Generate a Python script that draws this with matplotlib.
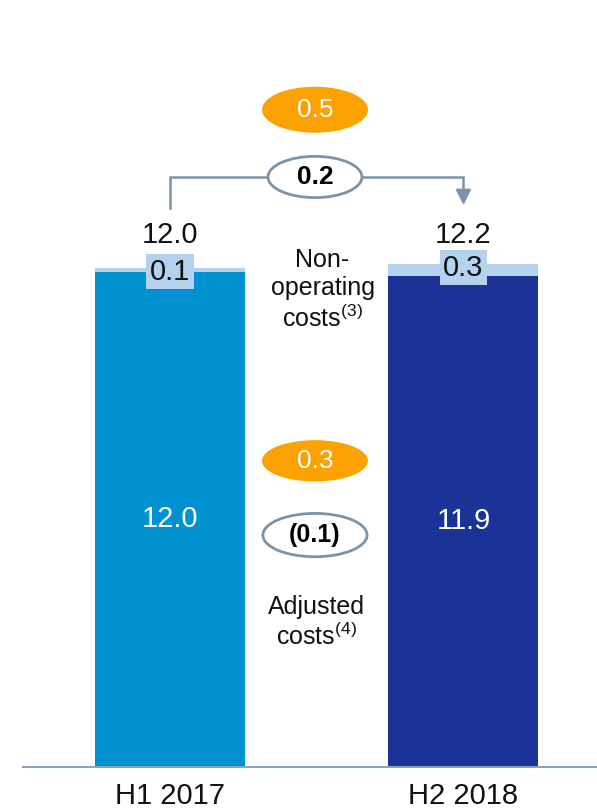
import matplotlib
matplotlib.use("Agg")
import matplotlib.pyplot as plt
from matplotlib.patches import Ellipse

plt.rcParams['font.family'] = ['Liberation Sans', 'DejaVu Sans']
plt.rcParams['mathtext.fontset'] = 'custom'
plt.rcParams['mathtext.rm'] = 'Liberation Sans'

# data
periods = ["H1 2017", "H2 2018"]
adjusted = [12.0, 11.9]
non_operating = [0.1, 0.3]
totals = [12.0, 12.2]
adjusted_labels = ["12.0", "11.9"]
non_op_labels = ["0.1", "0.3"]
total_labels = ["12.0", "12.2"]
total_change = "0.2"
non_op_change = "0.5"
adj_change = "(0.1)"
adj_change_fx = "0.3"

bar_colors = ["#0091D0", "#1B3296"]
cap_color = "#B4D2EE"
orange = "#FBA100"
oval_edge = "#7E93A8"

fig = plt.figure(figsize=(5.97, 8.09), dpi=100)
ax = fig.add_axes([0.0385, 0.052, 0.9615, 0.948])
ax.set_xlim(-0.501, 1.455)
ax.set_ylim(0, 18.59)

x = [0, 1]
ax.bar(x, adjusted, width=0.511, color=bar_colors)
ax.bar(x, non_operating, bottom=adjusted, width=0.511, color=cap_color)

for i in range(2):
    ax.text(x[i], adjusted[i] / 2, adjusted_labels[i], ha='center', va='center',
            color='white', fontsize=21)
    ax.text(x[i], adjusted[i] + non_operating[i] - 0.1, non_op_labels[i], ha='center', va='center',
            color='#111111', fontsize=21,
            bbox=dict(boxstyle='square,pad=0.12', facecolor=cap_color, edgecolor='none'))
    ax.text(x[i], max(totals) + 0.7, total_labels[i], ha='center', va='center',
            color='#111111', fontsize=21)

# bracket with arrow between totals
y_lo = max(totals) + 1.35
y_hi = max(totals) + 2.1
ax.plot([0, 0, 1, 1], [y_lo, y_hi, y_hi, y_lo + 0.3], color=oval_edge, lw=1.8,
        solid_joinstyle='miter')
ax.annotate("", xy=(1, y_lo), xytext=(1, y_lo + 0.45),
            arrowprops=dict(arrowstyle='-|>,head_length=0.9,head_width=0.45',
                            color=oval_edge, lw=1.8))

mid = 0.494
# ovals
ax.add_patch(Ellipse((mid, y_hi), 0.32, 1.0, facecolor='white', edgecolor=oval_edge, lw=2, zorder=3))
ax.text(mid, y_hi, total_change, ha='center', va='center', fontsize=19, fontweight='bold', zorder=4)

ax.add_patch(Ellipse((mid, 15.93), 0.361, 1.115, facecolor=orange, edgecolor='none', zorder=3))
ax.text(mid, 15.93, non_op_change, ha='center', va='center', fontsize=19, color='white', zorder=4)

ax.add_patch(Ellipse((mid, 7.42), 0.361, 1.0, facecolor=orange, edgecolor='none', zorder=3))
ax.text(mid, 7.42, adj_change_fx, ha='center', va='center', fontsize=19, color='white', zorder=4)

ax.add_patch(Ellipse((mid, 5.62), 0.355, 1.05, facecolor='white', edgecolor=oval_edge, lw=2, zorder=3))
ax.text(mid, 5.62, adj_change, ha='center', va='center', fontsize=18, fontweight='bold', zorder=4)

ax.text(0.52, 11.56, "Non-\noperating\ncosts$^{(3)}$", ha='center', va='center',
        fontsize=18, color='#111111', linespacing=1.2)
ax.text(0.5, 3.5, "Adjusted\ncosts$^{(4)}$", ha='center', va='center',
        fontsize=18, color='#111111', linespacing=1.2)

# axis styling
for s in ['top', 'right', 'left']:
    ax.spines[s].set_visible(False)
ax.spines['bottom'].set_color('#8FA3B8')
ax.spines['bottom'].set_linewidth(1.5)
ax.set_yticks([])
ax.set_xticks(x)
ax.set_xticklabels(periods, fontsize=21, color='#111111')
ax.tick_params(axis='x', length=0, pad=11)

fig.savefig("out.png", dpi=100)
